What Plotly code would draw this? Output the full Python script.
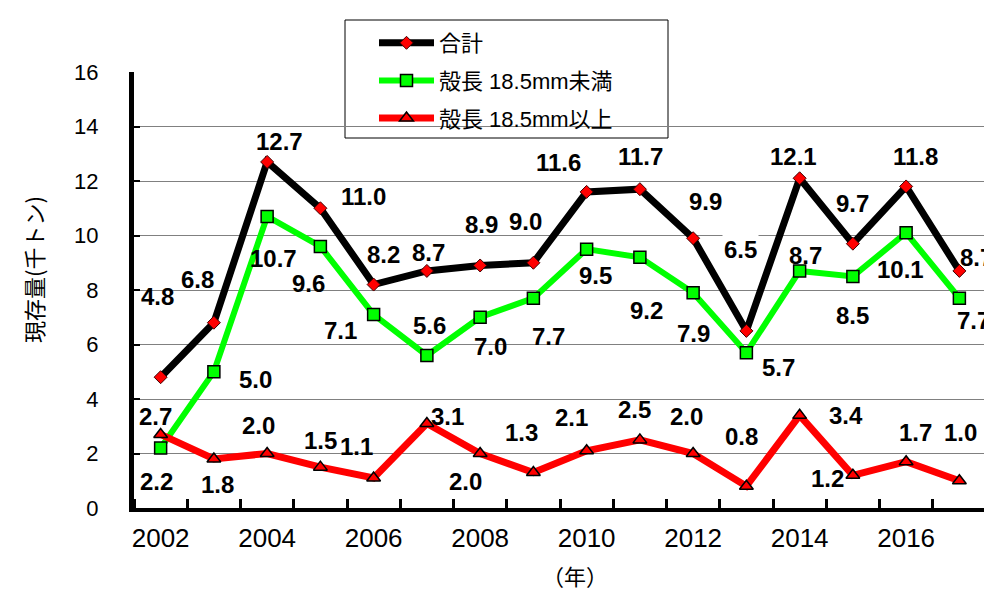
import plotly.graph_objects as go

years = list(range(2002, 2018))
total = [4.8, 6.8, 12.7, 11.0, 8.2, 8.7, 8.9, 9.0, 11.6, 11.7, 9.9, 6.5, 12.1, 9.7, 11.8, 8.7]
small = [2.2, 5.0, 10.7, 9.6, 7.1, 5.6, 7.0, 7.7, 9.5, 9.2, 7.9, 5.7, 8.7, 8.5, 10.1, 7.7]
large = [2.7, 1.8, 2.0, 1.5, 1.1, 3.1, 2.0, 1.3, 2.1, 2.5, 2.0, 0.8, 3.4, 1.2, 1.7, 1.0]
names = ["合計", "殻長 18.5mm未満", "殻長 18.5mm以上"]
tick_years = [2002, 2004, 2006, 2008, 2010, 2012, 2014, 2016]
y_ticks = [0, 2, 4, 6, 8, 10, 12, 14, 16]

# label offsets in pixels (dx, dy downwards)
off_total = [(-3, -81), (-16, -43), (12, -20), (43, -12), (10, -30), (2, -18), (1, -41), (-8, -41),
             (-28, -29), (1, -33), (12, -37), (-6, -81), (-6, -22), (0, -40), (9, -30), (17, -13)]
off_small = [(-4, 33), (42, 8), (6, 42), (-12, 37), (-33, 16), (3, -30), (10, 29), (15, 38),
             (9, 26), (7, 53), (0, 41), (32, 15), (6, -15), (0, 39), (-6, 37), (14, 22)]
off_large = [(-5, -18), (4, 26), (-9, -28), (0, -27), (-17, -32), (21, -7), (-15, 28), (-12, -40),
             (-15, -33), (-5, -30), (-7, -37), (-5, -50), (46, 0), (-25, 3), (9, -29), (1, -48)]
# labels drawn with an opaque white box in the original
boxed = {(0, 2013), (2, 2013), (2, 2014)}

# layout geometry (pixels)
L, R, T_PAPER, B = 126, 978, 10, 500
PW, PH = R - L, B - T_PAPER
PLOT_TOP = 64


def px(xp):
    return (xp - L) / PW


def py(yp):
    return (B - yp) / PH


fig = go.Figure()
fig.add_trace(go.Scatter(x=years, y=total, name=names[0], mode="lines+markers", legendgroup="a",
                         line=dict(color="black", width=7),
                         marker=dict(symbol="diamond", size=10, color="red", line=dict(color="#400000", width=1))))
fig.add_trace(go.Scatter(x=years, y=small, name=names[1], mode="lines+markers", legendgroup="b",
                         line=dict(color="#00FF00", width=6),
                         marker=dict(symbol="square", size=12, color="#00FF00", line=dict(color="black", width=1.5))))
fig.add_trace(go.Scatter(x=years, y=large, name=names[2], mode="lines+markers", legendgroup="c",
                         line=dict(color="#FF0000", width=7),
                         marker=dict(symbol="triangle-up", size=12, color="#FF0000", line=dict(color="black", width=1.5))))

lab_font = dict(family="Liberation Sans, Arial", size=24, color="black", weight="bold")
for si, (series, offs) in enumerate(((total, off_total), (small, off_small), (large, off_large))):
    for yr, v, (dx, dy) in zip(years, series, offs):
        bg = "white" if (si, yr) in boxed else "rgba(0,0,0,0)"
        fig.add_annotation(x=yr, y=v, xref="x", yref="y", text=f"<b>{v:.1f}</b>", showarrow=False,
                           xanchor="center", yanchor="middle", bgcolor=bg, borderpad=1,
                           xshift=dx, yshift=-dy, font=lab_font)

# axis titles
fig.add_annotation(x=px(25), y=py(262), xref="paper", yref="paper", text="現存量(千トン)", textangle=-90,
                   xanchor="center", yanchor="middle",
                   showarrow=False, font=dict(family="Noto Sans CJK JP", size=22, color="black"))
fig.add_annotation(x=px(567), y=py(567), xref="paper", yref="paper", text="（年）",
                   xanchor="center", yanchor="middle",
                   showarrow=False, font=dict(family="Noto Sans CJK JP", size=22, color="black"))

# legend box
fig.add_shape(type="rect", xref="paper", yref="paper", x0=px(337), x1=px(660), y0=py(130), y1=py(12),
              fillcolor="white", line=dict(color="black", width=1), layer="between")

fig.update_layout(
    width=992, height=595,
    margin=dict(l=L, r=992 - R, t=T_PAPER, b=595 - B),
    paper_bgcolor="white", plot_bgcolor="white",
    showlegend=True,
    legend=dict(x=px(366), y=py(14), xanchor="left", yanchor="top",
                bgcolor="rgba(0,0,0,0)", borderwidth=0, itemwidth=55, tracegroupgap=6,
                font=dict(family="Liberation Sans, Noto Sans CJK JP", size=22, color="black")),
    xaxis=dict(range=[2001.5, 2017.5], tickvals=tick_years, ticktext=[str(t) for t in tick_years],
               ticks="", showgrid=False, zeroline=False, automargin=False,
               showline=True, linecolor="black", linewidth=4,
               tickfont=dict(family="Liberation Sans, Arial", size=26, color="black"),
               ticklabelstandoff=4,
               minor=dict(tickvals=[y - 0.5 for y in years] + [2017.5], ticks="inside", ticklen=9,
                          tickwidth=3, tickcolor="black", showgrid=False)),
    yaxis=dict(range=[0, 16], domain=[0, py(PLOT_TOP)], tickvals=y_ticks, ticks="inside", ticklen=6,
               tickwidth=2, tickcolor="black",
               showgrid=True, gridcolor="#808080", gridwidth=1, zeroline=False, automargin=False,
               showline=True, linecolor="black", linewidth=5,
               tickfont=dict(family="Liberation Sans, Arial", size=22, color="black"),
               ticklabelstandoff=26),
)

fig.write_html("out.html")
